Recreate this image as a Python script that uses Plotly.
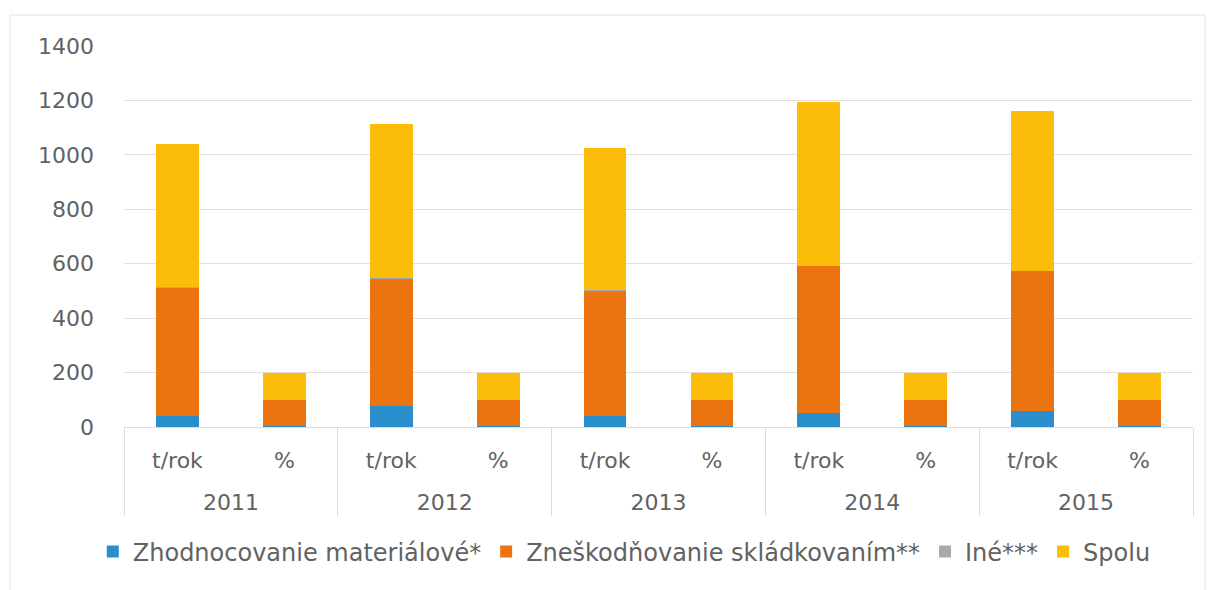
import plotly.graph_objects as go

years = ["2011", "2012", "2013", "2014", "2015"]
units = ["t/rok", "%"]

# t/rok values
zhod_t = [40, 77, 41, 50, 57]
znes_t = [472, 468, 460, 542, 517]
ine_t = [1, 1, 1, 1, 1]
spolu_t = [526, 569, 523, 602, 588]

# % values
zhod_p = [3, 3, 2, 2, 2]
znes_p = [96.5, 96.5, 97.5, 97.5, 97.5]
ine_p = [0.5, 0.5, 0.5, 0.5, 0.5]
spolu_p = [100, 100, 100, 100, 100]

series_names = ["Zhodnocovanie materiálové*", "Zneškodňovanie skládkovaním**", "Iné***", "Spolu"]
colors = ["#2a8dcc", "#ec7410", "#a9a9a6", "#fbbd08"]

# outer (year) labels get a blank first line so the year row sits lower, as in the reference
x_outer = []
x_inner = []
for y in years:
    for u in units:
        x_outer.append("\u00a0<br>" + y)
        x_inner.append(u)

def interleave(a, b):
    out = []
    for i in range(len(a)):
        out.append(a[i])
        out.append(b[i])
    return out

series_vals = [
    interleave(zhod_t, zhod_p),
    interleave(znes_t, znes_p),
    interleave(ine_t, ine_p),
    interleave(spolu_t, spolu_p),
]

font_family = "DejaVu Sans, sans-serif"
text_col = "#626262"

# page body has an 8px default margin -> figure is slightly smaller
W, H = 1209, 582
L, R, T, B = 116, 24, 38, 163
pw = W - L - R
ph = H - T - B

fig = go.Figure()
for name, vals, col in zip(series_names, series_vals, colors):
    fig.add_trace(go.Bar(
        x=[x_outer, x_inner], y=vals, name=name,
        marker=dict(color=col, line=dict(width=0)),
    ))

fig.update_layout(
    width=W, height=H,
    barmode="stack", bargap=0.6,
    paper_bgcolor="white", plot_bgcolor="white",
    margin=dict(l=L, r=R, t=T, b=B),
    font=dict(family=font_family, color=text_col, size=22),
    showlegend=True,
    legend=dict(orientation="h", x=0.468, xanchor="center", y=(ph - (544 - T)) / ph, yanchor="middle",
                traceorder="normal", font=dict(size=24, color=text_col),
                itemwidth=30),
    xaxis=dict(
        type="multicategory", showline=True, linecolor="#dcdcdc", linewidth=1,
        showdividers=True, dividercolor="#dcdcdc", dividerwidth=1,
        tickfont=dict(size=22, color=text_col), showgrid=False, zeroline=False,
        ticklabelstandoff=14,
    ),
    yaxis=dict(
        range=[0, 1400], dtick=200, showgrid=True, gridcolor="#e3dfdb", gridwidth=1,
        zeroline=False, tickfont=dict(size=22, color=text_col), ticklabelstandoff=29,
        showline=False,
    ),
    shapes=[dict(type="rect", xref="paper", yref="paper",
                 x0=(2 - L) / pw, x1=(1197 - L) / pw,
                 y0=-0.6, y1=(ph + T - 7) / ph,
                 line=dict(color="#e6e3e0", width=1), fillcolor="rgba(0,0,0,0)", layer="below")],
)

fig.write_html("out.html")
